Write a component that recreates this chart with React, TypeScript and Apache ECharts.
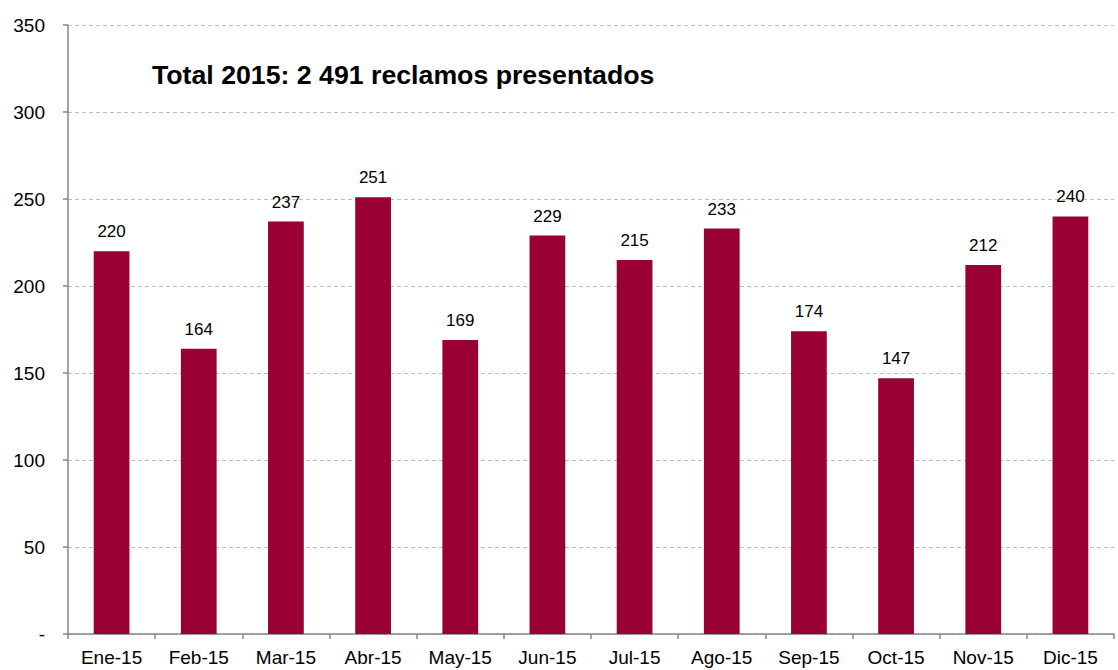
import React, { useEffect, useRef } from "react";
import * as echarts from "echarts";

const categories = ["Ene-15", "Feb-15", "Mar-15", "Abr-15", "May-15", "Jun-15", "Jul-15", "Ago-15", "Sep-15", "Oct-15", "Nov-15", "Dic-15"];
const values = [220, 164, 237, 251, 169, 229, 215, 233, 174, 147, 212, 240];
const titleText = "Total 2015: 2 491 reclamos presentados";

export default function App() {
  const ref = useRef<HTMLDivElement>(null);
  useEffect(() => {
    if (!ref.current) return;
    const chart = echarts.init(ref.current, null, { renderer: "svg" });
    const font = "Arial, 'Liberation Sans', sans-serif";
    chart.setOption({
      animation: false,
      textStyle: { fontFamily: font },
      graphic: [
        {
          type: "text",
          left: 152,
          top: 61,
          style: { text: titleText, fontSize: 26.7, fontWeight: "bold", fill: "#000", fontFamily: font },
        },
      ],
      grid: { left: 68, right: 4, top: 25, bottom: 36, containLabel: false },
      xAxis: {
        type: "category",
        data: categories,
        axisLine: { lineStyle: { color: "#868686", width: 1.5 } },
        axisTick: { show: true, alignWithLabel: false, length: 5, lineStyle: { color: "#868686", width: 1.5 } },
        axisLabel: { color: "#000", fontSize: 19, margin: 14, fontFamily: font },
      },
      yAxis: {
        type: "value",
        min: 0,
        max: 350,
        interval: 50,
        axisLine: { show: true, lineStyle: { color: "#868686", width: 1.5 } },
        axisTick: { show: true, length: 5, lineStyle: { color: "#868686", width: 1.5 } },
        axisLabel: {
          color: "#000",
          fontSize: 19,
          margin: 23,
          fontFamily: font,
          formatter: (v: number) => (v === 0 ? "-" : String(v)),
        },
        splitLine: { show: true, lineStyle: { color: "#bfbfbf", type: [4, 3], width: 1 } },
      },
      series: [
        {
          type: "bar",
          data: values,
          barWidth: "41%",
          itemStyle: { color: "#990033" },
          label: { show: true, position: "top", distance: 11, color: "#000", fontSize: 17, fontFamily: font },
        },
      ],
    });
    return () => chart.dispose();
  }, []);
  return <div ref={ref} style={{ width: 1118, height: 670, position: "absolute", left: 0, top: 0 }} />;
}
